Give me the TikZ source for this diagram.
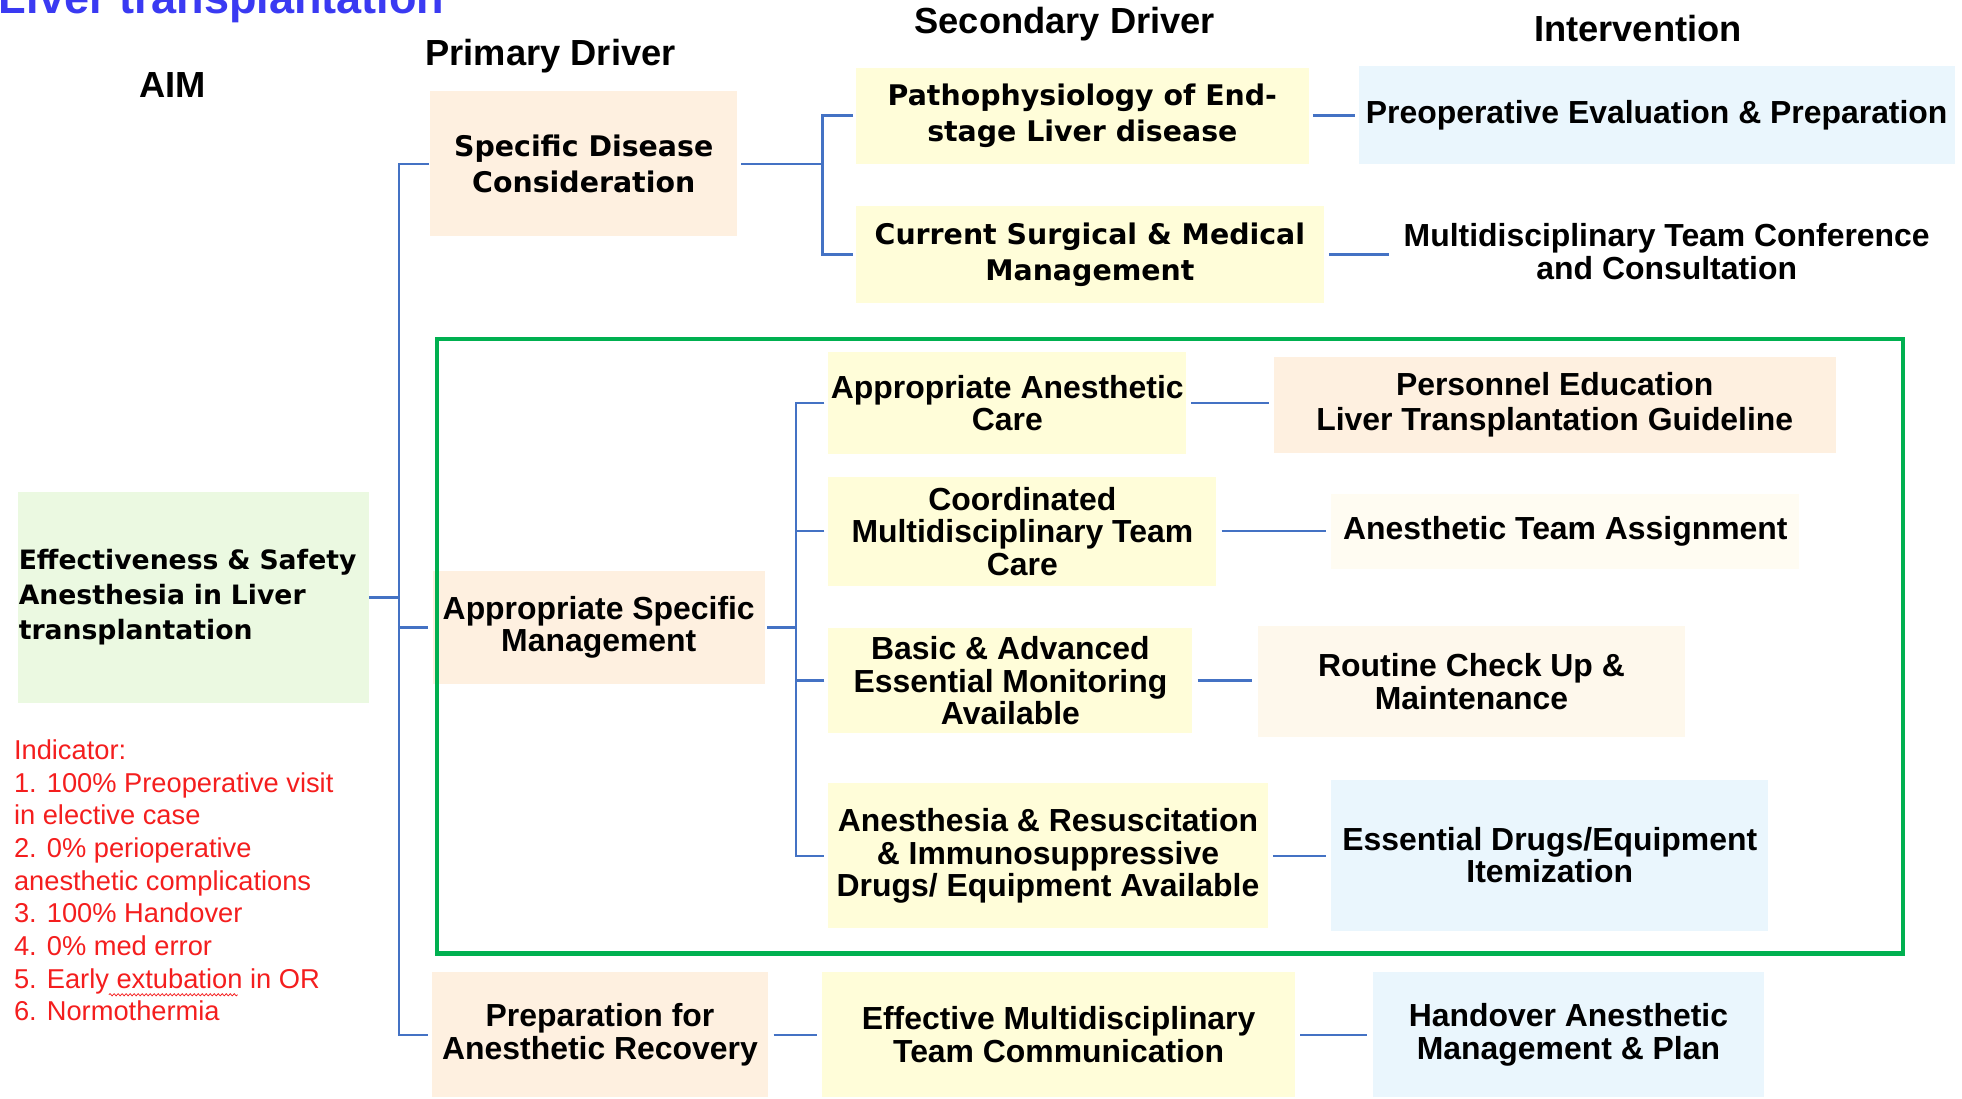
\documentclass[tikz,border=0pt]{standalone}
\usepackage{fontspec}
\setmainfont{Liberation Sans}
\newfontfamily\verd{DejaVu Sans}
\usetikzlibrary{decorations.pathmorphing}

\definecolor{peach}{HTML}{FEF0E0}
\definecolor{paleyel}{HTML}{FFFDD9}
\definecolor{paleblue}{HTML}{EAF6FD}
\definecolor{palegreen}{HTML}{EBF9E1}
\definecolor{cream}{HTML}{FFFCF2}
\definecolor{cream2}{HTML}{FEF8EC}
\definecolor{connblue}{HTML}{4472C4}
\definecolor{framegreen}{HTML}{00B050}
\definecolor{indred}{HTML}{F41E1E}
\definecolor{titleblue}{HTML}{3A3AF2}

\tikzset{
  box/.style={inner sep=0pt, align=center, anchor=center, text=black},
  arialb/.style={font=\fontsize{25.5}{26}\selectfont\bfseries},
  verdb/.style={font=\fontsize{22.7}{29}\selectfont\verd\bfseries},
  header/.style={font=\fontsize{29}{32}\selectfont\bfseries, inner sep=0pt},
  conn/.style={draw=connblue, line width=2pt},
}

\begin{document}
\begin{tikzpicture}[x=1pt,y=-1pt]
\useasboundingbox (0,0) rectangle (1568,878);

% title and column headings
\node[font=\fontsize{36}{38}\selectfont\bfseries, text=titleblue, inner sep=0pt, anchor=base west] (ttl) at (-1,11) {Liver transplantation};
\node[header] (hAim) at (138,68) {AIM};
\node[header] (hPri) at (440,45) {Primary Driver};
\node[header] (hSec) at (851,19) {Secondary Driver};
\node[header] (hInt) at (1309,23) {Intervention};

% aim
\node[box, fill=palegreen, minimum width=281, minimum height=169, text width=279, align=left,
      font=\fontsize{21.3}{28}\selectfont\verd\bfseries] (aim) at (154.5,477.5)
  {Effectiveness \& Safety\\Anesthesia in Liver\\transplantation};

% indicators
\node[inner sep=0pt, anchor=north west, align=left, text=indred,
      font=\fontsize{21.8}{26.1}\selectfont] (ind) at (11,591)
  {Indicator:\\1. 100\% Preoperative visit\\in elective case\\2. 0\% perioperative\\anesthetic complications\\3. 100\% Handover\\4. 0\% med error\\5. Early extubation in OR\\6. Normothermia};
\draw[indred, line width=0.6pt, decorate, decoration={snake, amplitude=0.9pt, segment length=3.2pt}]
  (87,795) -- (190,795);

% primary drivers
\node[box, verdb, fill=peach, minimum width=245, minimum height=116] (sdc) at (466.5,131)
  {Specific Disease\\Consideration};
\node[box, arialb, fill=peach, minimum width=265, minimum height=91] (asm) at (478.5,501.5)
  {Appropriate Specific\\Management};
\node[box, arialb, fill=peach, minimum width=269, minimum height=100] (pfar) at (479.5,827)
  {Preparation for\\Anesthetic Recovery};

% secondary drivers
\node[box, verdb, fill=paleyel, minimum width=362, minimum height=77] (patho) at (865,92.5)
  {Pathophysiology of End-\\stage Liver disease};
\node[box, verdb, fill=paleyel, minimum width=374, minimum height=77] (csm) at (871,203.5)
  {Current Surgical \& Medical\\Management};
\node[box, arialb, fill=paleyel, minimum width=286, minimum height=82] (aac) at (805,322)
  {Appropriate Anesthetic\\Care};
\node[box, arialb, fill=paleyel, minimum width=310, minimum height=87] (cmt) at (817,424.5)
  {Coordinated\\Multidisciplinary Team\\Care};
\node[box, arialb, fill=paleyel, minimum width=291, minimum height=84] (bae) at (807.5,544)
  {Basic \& Advanced\\Essential Monitoring\\Available};
\node[box, arialb, fill=paleyel, minimum width=351, minimum height=116] (ari) at (837.5,684)
  {Anesthesia \& Resuscitation\\\& Immunosuppressive\\Drugs/ Equipment Available};
\node[box, arialb, fill=paleyel, minimum width=378, minimum height=100] (emc) at (846,827)
  {Effective Multidisciplinary\\Team Communication};

% interventions
\node[box, arialb, fill=paleblue, minimum width=476, minimum height=78] (pep) at (1324,92)
  {Preoperative Evaluation \& Preparation};
\node[box, arialb, minimum width=440, minimum height=70] (mtc) at (1332,201)
  {Multidisciplinary Team Conference\\and Consultation};
\node[box, arialb, fill=peach, minimum width=449, minimum height=77,
      font=\fontsize{25.5}{28}\selectfont\bfseries] (pe) at (1242.5,323.5)
  {Personnel Education\\Liver Transplantation Guideline};
\node[box, arialb, fill=cream, minimum width=374, minimum height=60] (ata) at (1251,424.5)
  {Anesthetic Team Assignment};
\node[box, arialb, fill=cream2, minimum width=342, minimum height=89] (rcm) at (1176,544.5)
  {Routine Check Up \&\\Maintenance};
\node[box, arialb, fill=paleblue, minimum width=349, minimum height=121] (edi) at (1238.5,683.5)
  {Essential Drugs/Equipment\\Itemization};
\node[box, arialb, fill=paleblue, minimum width=313, minimum height=100] (hamp) at (1253.5,827)
  {Handover Anesthetic\\Management \& Plan};

% frame round the anesthetic-management branch
\draw[framegreen, line width=3.5pt] (349,271) rectangle (1521,762);

% aim to primary drivers
\draw[conn, shorten <=1pt, shorten >=3pt] (sdc.west) -- ++(-25,0) coordinate (trA) |- (pfar.west);
\draw[conn] (aim.east) -- (aim.east -| trA);
\draw[conn, shorten <=4pt] (asm.west) -- (asm.west -| trA);

% primary to secondary drivers
\draw[conn, shorten <=3pt] (sdc.east) -- ++(68,0) coordinate (trB);
\draw[conn, shorten <=2pt, shorten >=2pt] (patho.west) -| (trB) |- (csm.west);
\draw[conn, shorten <=2pt] (asm.east) -- ++(25,0) coordinate (trC);
\draw[conn, shorten <=3pt, shorten >=3pt] (aac.west) -| (trC) |- (ari.west);
\draw[conn, shorten <=3pt] (cmt.west) -- (cmt.west -| trC);
\draw[conn, shorten <=3pt] (bae.west) -- (bae.west -| trC);

% secondary drivers to interventions
\draw[conn, shorten <=3pt, shorten >=3pt] (patho.east) -- (patho.east -| pep.west);
\draw[conn, shorten <=4pt] (csm.east) -- ([xshift=-2pt]csm.east -| mtc.west);
\draw[conn, shorten <=4pt, shorten >=4pt] (aac.east) -- (aac.east -| pe.west);
\draw[conn, shorten <=4pt, shorten >=4pt] (cmt.east) -- (cmt.east -| ata.west);
\draw[conn, shorten <=4pt, shorten >=4pt] (bae.east) -- (bae.east -| rcm.west);
\draw[conn, shorten <=4pt, shorten >=4pt] (ari.east) -- (ari.east -| edi.west);
\draw[conn, shorten <=4pt, shorten >=4pt] (pfar.east) -- (pfar.east -| emc.west);
\draw[conn, shorten <=4pt, shorten >=4pt] (emc.east) -- (emc.east -| hamp.west);
\end{tikzpicture}
\end{document}
